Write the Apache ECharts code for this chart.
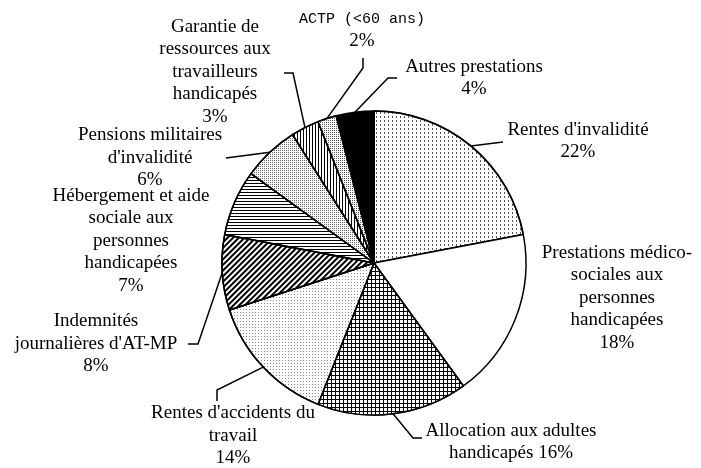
<!DOCTYPE html>
<html>
<head>
<meta charset="utf-8">
<script src="https://cdn.jsdelivr.net/npm/echarts@6/dist/echarts.min.js"></script>
<style>
  html, body { margin: 0; padding: 0; background: #fff; }
  #chart { width: 701px; height: 468px; }
</style>
</head>
<body>
<div id="chart"></div>
<script>
// Categories (clockwise from 12 o'clock) and their shares in percent
const categories = [
  "Rentes d'invalidité",
  "Prestations médico-\nsociales aux\npersonnes\nhandicapées",
  "Allocation aux adultes\nhandicapés",
  "Rentes d'accidents du\ntravail",
  "Indemnités\njournalières d'AT-MP",
  "Hébergement et aide\nsociale aux\npersonnes\nhandicapées",
  "Pensions militaires\nd'invalidité",
  "Garantie de\nressources aux\ntravailleurs\nhandicapés",
  "ACTP (<60 ans)",
  "Autres prestations"
];
const shares = [22, 18, 16, 14, 8, 7, 6, 3, 2, 4];

// Separator between the name and the percentage in each label
const valueSeparators = ['\n', '\n', ' ', '\n', '\n', '\n', '\n', '\n', '\n', '\n'];

// Label block centres and leader-line bends (after the slice edge point)
const labelCentres = [
  [578, 141], [617, 298], [511, 442], [233, 436], [96, 344],
  [131, 241], [150, 158], [215, 72], [362, 30], [474, 78]
];
const leaderBends = [
  [[503, 142]],
  null,
  [[413, 438], [422, 438]],
  [[217, 390], [217, 401]],
  [[198, 344], [188, 344]],
  null,
  [[226, 158]],
  [[293, 73], [284, 73]],
  [[363, 68], [363, 58]],
  [[388, 78], [397, 78]]
];

// Fill and hatching per slice
const fills = ['#fff', '#fff', '#000', '#fff', '#fff', '#fff', '#fff', '#fff', '#fff', '#000'];
const hatches = [
  { symbol: 'rect', symbolSize: 1, dashArrayX: [1, 3], dashArrayY: [2, 2], color: '#555' },
  null,
  { symbol: 'rect', symbolSize: 1, dashArrayX: [3, 1], dashArrayY: [3, 1], color: '#fff' },
  { symbol: 'rect', symbolSize: 1, dashArrayX: [1, 2], dashArrayY: [1, 2], color: '#888' },
  { symbol: 'rect', symbolSize: 1, dashArrayX: [1, 0], dashArrayY: [2, 2], rotation: -Math.PI / 4, color: '#000' },
  { symbol: 'rect', symbolSize: 1, dashArrayX: [1, 0], dashArrayY: [1, 2], color: '#000' },
  { symbol: 'rect', symbolSize: 1, dashArrayX: [1, 1], dashArrayY: [1, 1], color: '#666' },
  { symbol: 'rect', symbolSize: 1, dashArrayX: [1, 2], dashArrayY: [1, 0], color: '#000' },
  { symbol: 'rect', symbolSize: 1, dashArrayX: [1, 1], dashArrayY: [1, 1], color: '#555' },
  null
];
// Names set in a typewriter face (the percentage stays in the serif face)
const monoNames = [false, false, false, false, false, false, false, false, true, false];

const serifFont = 'Liberation Serif';
const monoFont = 'Liberation Mono';

const pieData = categories.map((name, i) => ({
  name: name,
  value: shares[i],
  itemStyle: Object.assign({ color: fills[i] }, hatches[i] ? { decal: hatches[i] } : {}),
  labelLine: { show: leaderBends[i] !== null }
}));

const chart = echarts.init(document.getElementById('chart'), null, { renderer: 'canvas' });
chart.setOption({
  backgroundColor: '#fff',
  animation: false,
  series: [{
    type: 'pie',
    center: [374, 263],
    radius: 152,
    startAngle: 90,
    clockwise: true,
    avoidLabelOverlap: false,
    data: pieData,
    itemStyle: { borderColor: '#000', borderWidth: 1.5 },
    label: {
      show: true,
      position: 'outside',
      color: '#000',
      fontFamily: serifFont,
      fontSize: 19,
      lineHeight: 22.5,
      align: 'center',
      formatter: p => {
        const i = p.dataIndex;
        if (monoNames[i]) {
          return '{mono|' + p.name + '}\n{serif|' + p.value + '%}';
        }
        return p.name + valueSeparators[i] + p.value + '%';
      },
      rich: {
        mono: { fontFamily: monoFont, fontSize: 15, lineHeight: 22.5, color: '#000' },
        serif: { fontFamily: serifFont, fontSize: 19, lineHeight: 22.5, color: '#000' }
      }
    },
    labelLine: {
      show: true,
      lineStyle: { color: '#000', width: 1.5 }
    },
    labelLayout: function (params) {
      const i = params.dataIndex;
      const out = {
        x: labelCentres[i][0],
        y: labelCentres[i][1],
        align: 'center',
        verticalAlign: 'middle'
      };
      if (leaderBends[i] && params.labelLinePoints) {
        out.labelLinePoints = [params.labelLinePoints[0]].concat(leaderBends[i]);
      }
      return out;
    }
  }]
});
</script>
</body>
</html>
